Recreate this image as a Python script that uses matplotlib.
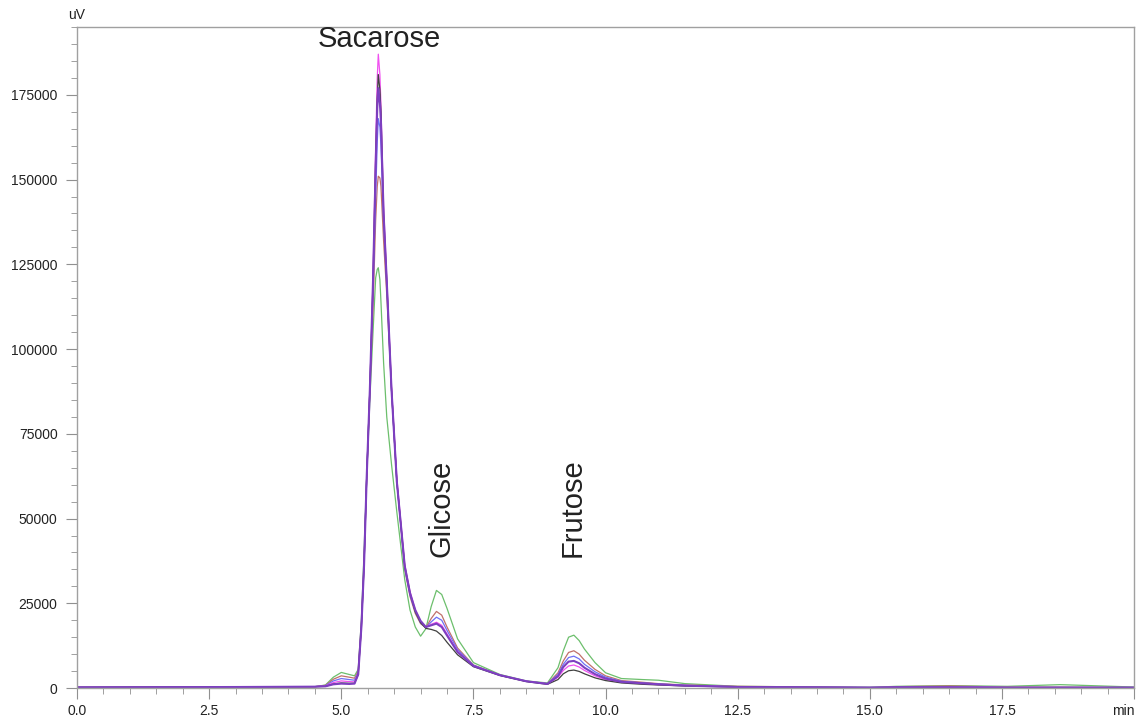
import matplotlib.pyplot as plt
from matplotlib.ticker import MultipleLocator

plt.rcParams['font.family'] = ['Liberation Sans', 'DejaVu Sans']

# retention time (min) - shared grid for all runs
t = [0.0, 3.0, 4.5, 4.7, 4.85, 5.0, 5.15, 5.25, 5.32, 5.38, 5.43, 5.48, 5.54,
     5.6, 5.65, 5.68, 5.7, 5.73, 5.75, 5.8, 5.86, 5.95, 6.05, 6.2, 6.3, 6.4, 6.5, 6.6,
     6.7, 6.8, 6.9, 7.0, 7.2, 7.5, 8.0, 8.5, 8.9, 9.1, 9.2, 9.3, 9.4, 9.5,
     9.6, 9.8, 10.0, 10.3, 10.7, 11.0, 11.5, 12.5, 15.0, 15.5, 16.5, 17.6,
     18.6, 20.0]

# signal (uV) per run
green = [200, 300, 400, 900, 3200, 4600, 4000, 3600, 5500, 20000, 40000, 62000, 85000,
         105000, 121000, 123500, 124000, 120500, 114000, 96000, 80000, 66000, 52000, 32000, 23000, 18000, 15300, 17500,
         24000, 28800, 27600, 23500, 14500, 7500, 4000, 2100, 1500, 6000, 11000, 15000, 15600, 14000,
         11500, 7500, 4500, 2800, 2500, 2300, 1300, 500, 200, 500, 700, 500, 1000, 300]
brown = [200, 300, 400, 800, 2600, 3600, 3200, 2900, 5000, 19000, 37000, 62000, 88000,
         112000, 138000, 148000, 151000, 150500, 148000, 132000, 116000, 88000, 61000, 35000, 27000, 22000, 19000, 17800,
         20500, 22600, 21500, 18000, 11800, 6800, 3800, 2000, 1300, 4500, 8000, 10500, 11000, 10000,
         8200, 5500, 3600, 2200, 1700, 1300, 900, 500, 200, 400, 600, 300, 300, 200]
blue = [200, 300, 400, 700, 2100, 2800, 2500, 2300, 4600, 18500, 36500, 62000, 88000,
        118000, 145000, 161000, 168000, 165500, 160000, 138000, 119000, 88000, 61000, 35500, 27500, 22500, 19300, 17800,
        19500, 20900, 20000, 17000, 11300, 6700, 3800, 2000, 1300, 4000, 7000, 9000, 9400, 8600,
        7000, 4800, 3200, 2000, 1500, 1200, 800, 400, 200, 300, 400, 200, 200, 200]
magenta = [200, 300, 400, 600, 1600, 2100, 1900, 1800, 4300, 18000, 36000, 62000, 88000,
           121000, 160000, 180000, 187000, 181000, 172000, 142000, 121000, 89000, 62000, 36500, 28500, 23000, 19700, 18000,
           18800, 19400, 18500, 16000, 10800, 6500, 3800, 2000, 1200, 3200, 5200, 6500, 6800, 6200,
           5200, 3600, 2500, 1700, 1300, 1000, 700, 300, 100, 200, 300, 100, 100, 100]
black = [200, 300, 400, 500, 1200, 1500, 1400, 1400, 4000, 18000, 36000, 62000, 88000,
         120000, 156000, 174000, 181000, 176500, 170000, 140000, 120000, 88000, 61000, 36000, 28000, 22500, 19300, 17600,
         17300, 16800, 15500, 13500, 9800, 6300, 3700, 1900, 1100, 2500, 4200, 5100, 5300, 4900,
         4200, 3000, 2200, 1500, 1100, 900, 600, 300, 100, 200, 200, 100, 100, 100]
purple = [200, 300, 400, 500, 1100, 1300, 1200, 1300, 4000, 18000, 36000, 62000, 88000,
          120000, 154000, 171000, 177000, 172500, 167000, 140000, 120000, 88000, 61000, 36000, 28000, 23000, 19800, 18000,
          18500, 19000, 18000, 15500, 10600, 6500, 3800, 2000, 1200, 3500, 6200, 7800, 8000, 7300,
          6000, 4100, 2800, 1800, 1400, 1100, 700, 300, 100, 200, 200, 100, 100, 100]

runs = [(green, '#6cbf6c', 0.9), (brown, '#c0706a', 0.9), (blue, '#6f6ff5', 0.9),
        (magenta, '#f050f0', 0.9), (black, '#404040', 0.9), (purple, '#7d3fc0', 1.5)]

x_ticks = [0.0, 2.5, 5.0, 7.5, 10.0, 12.5, 15.0, 17.5, 20.0]
y_ticks = [0, 25000, 50000, 75000, 100000, 125000, 150000, 175000]

fig = plt.figure(figsize=(11.41, 7.2), dpi=100)
ax = fig.add_axes([0.0675, 0.0444, 0.9265, 0.918])

for y, c, lw in runs:
    ax.plot(t, y, color=c, lw=lw)

ax.set_xlim(0, 20)
ax.set_ylim(0, 195000)
ax.set_xticks(x_ticks)
ax.set_xticklabels([f'{v:.1f}' for v in x_ticks[:-1]] + ['min'])
ax.get_xticklabels()[-1].set_horizontalalignment('right')
ax.set_yticks(y_ticks)
ax.set_yticklabels([str(v) for v in y_ticks])
ax.xaxis.set_minor_locator(MultipleLocator(0.5))
ax.yaxis.set_minor_locator(MultipleLocator(5000))
ax.tick_params(which='major', length=8, color='#909090', labelsize=10, labelcolor='#222222')
ax.tick_params(which='minor', length=4, color='#909090')
ax.tick_params(axis='y', pad=6)
for s in ax.spines.values():
    s.set_color('#a0a0a0')
    s.set_linewidth(1.0)

ax.text(0, 1.008, 'uV', transform=ax.transAxes, fontsize=10, ha='center', va='bottom',
        color='#222222')

ax.text(5.71, 191500, 'Sacarose', fontsize=21, ha='center', va='center', color='#222222')
ax.text(6.89, 52900, 'Glicose', fontsize=21, rotation=90, ha='center', va='center', color='#222222')
ax.text(9.38, 53200, 'Frutose', fontsize=21, rotation=90, ha='center', va='center', color='#222222')

fig.savefig('out.png', dpi=100)
